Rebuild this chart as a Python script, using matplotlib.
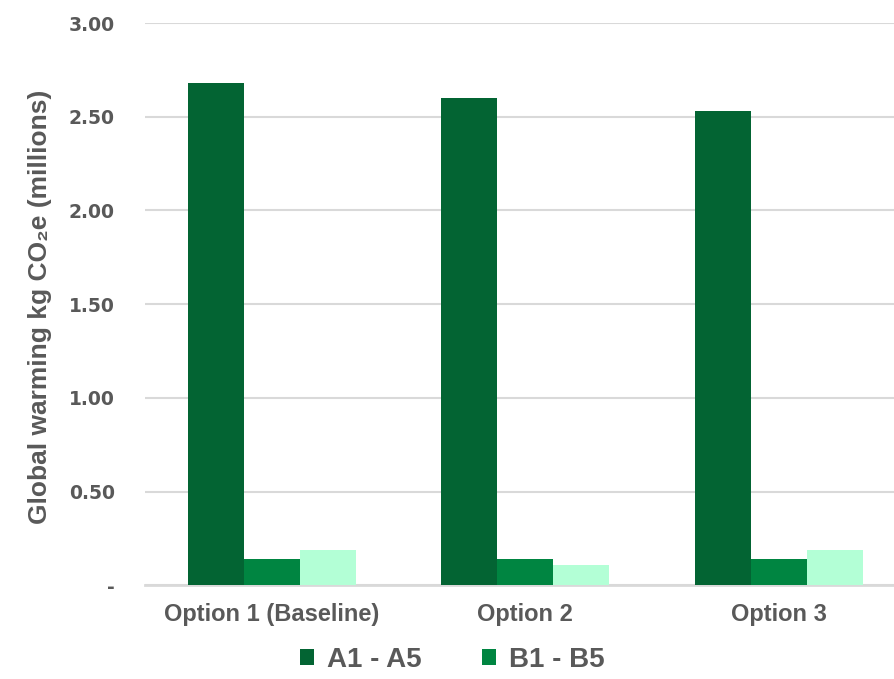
import matplotlib
matplotlib.use("Agg")
import matplotlib.pyplot as plt
import numpy as np

# Global warming potential by life-cycle stage, kg CO2e (millions)
options = ["Option 1 (Baseline)", "Option 2", "Option 3"]
series_names = ["A1 - A5", "B1 - B5", "C1 - C4"]
a1_a5 = [2.68, 2.60, 2.53]
b1_b5 = [0.14, 0.14, 0.14]
c1_c4 = [0.19, 0.11, 0.19]
colors = ["#036433", "#008541", "#B3FFD6"]
yticks = [0.0, 0.5, 1.0, 1.5, 2.0, 2.5, 3.0]

plt.rcParams["font.family"] = ["Liberation Sans", "DejaVu Sans"]
text_color = "#595959"

fig = plt.figure(figsize=(8.94, 6.79), dpi=100)
ax = fig.add_axes([0.162, 0.138, 0.838, 0.828])

x = np.arange(len(options))
width = 0.221
handles = []
for k, (vals, name, col) in enumerate(zip([a1_a5, b1_b5, c1_c4], series_names, colors)):
    b = ax.bar(x + (k - 1) * width, vals, width, color=col, label=name, zorder=3)
    handles.append(b)

ax.set_xlim(-0.5, 2.455)
ax.set_ylim(0, 3.0)
ax.set_yticks(yticks)
ax.set_yticklabels(["-" if v == 0 else f"{v:.2f}" for v in yticks],
                   fontsize=13.5, fontweight="bold", color=text_color,
                   family="DejaVu Sans")
ax.set_xticks(x)
ax.set_xticklabels(options, fontsize=17, fontweight="bold", color=text_color)
ax.tick_params(axis="both", length=0)
ax.tick_params(axis="y", pad=21.5)
ax.tick_params(axis="x", pad=13)

ax.grid(axis="y", color="#D9D9D9", linewidth=1.5, zorder=0)
ax.set_axisbelow(True)
for s in ["top", "right", "left"]:
    ax.spines[s].set_visible(False)
ax.spines["bottom"].set_color("#D9D9D9")
ax.spines["bottom"].set_linewidth(2)

ax.set_ylabel("Global warming kg CO₂e (millions)", fontsize=19,
              fontweight="bold", color=text_color)
ax.yaxis.set_label_coords(-0.124, 0.496)

fig.legend(handles[:2], series_names[:2], loc="center", bbox_to_anchor=(0.506, 0.028),
           ncol=2, frameon=False, labelcolor=text_color,
           prop={"weight": "bold", "size": 20}, handlelength=0.5, handleheight=0.5,
           columnspacing=2.2, handletextpad=0.45)

fig.savefig("out.png", dpi=100)
